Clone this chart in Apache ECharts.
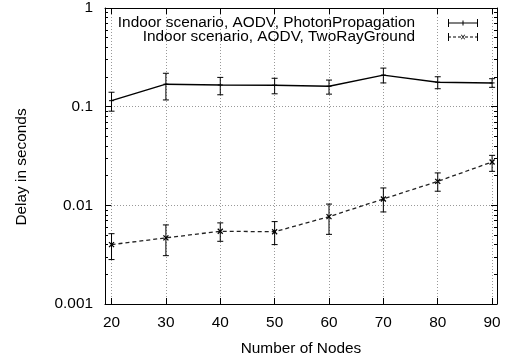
<!DOCTYPE html>
<html>
<head>
<meta charset="utf-8">
<script src="https://cdn.jsdelivr.net/npm/echarts@6/dist/echarts.min.js"></script>
<style>html,body{margin:0;padding:0;background:#fff}#c{width:508px;height:358px}</style>
</head>
<body>
<div id="c"></div>
<script>
const nodes = [20, 30, 40, 50, 60, 70, 80, 90];
const photonDelay = [0.115, 0.169, 0.166, 0.165, 0.161, 0.209, 0.177, 0.174];
const photonLow   = [0.090, 0.117, 0.132, 0.135, 0.134, 0.174, 0.152, 0.157];
const photonHigh  = [0.140, 0.218, 0.198, 0.194, 0.186, 0.246, 0.201, 0.192];
const twoRayDelay = [0.0040, 0.00468, 0.00546, 0.0054, 0.00768, 0.0116, 0.0175, 0.0275];
const twoRayLow   = [0.00282, 0.00309, 0.00432, 0.0040, 0.00508, 0.00857, 0.0139, 0.0221];
const twoRayHigh  = [0.00516, 0.00633, 0.00664, 0.00684, 0.0103, 0.0150, 0.0213, 0.0321];
const xTicks = [20, 30, 40, 50, 60, 70, 80, 90];
const yTicks = [0.001, 0.01, 0.1, 1];
const yMinorTicks = [0.002,0.003,0.004,0.005,0.006,0.007,0.008,0.009,
                     0.02,0.03,0.04,0.05,0.06,0.07,0.08,0.09,
                     0.2,0.3,0.4,0.5,0.6,0.7,0.8,0.9];
const name1 = 'Indoor scenario, AODV, PhotonPropagation';
const name2 = 'Indoor scenario, AODV, TwoRayGround';

const FONT = "'Liberation Sans', Arial, Helvetica, sans-serif";
const FS = 15.4;

const iconSolid = 'path://M0,3.5L30,3.5L30,4.5L0,4.5Z M0,0L1,0L1,8L0,8Z M29,0L30,0L30,8L29,8Z M14.5,1.5L15.5,1.5L15.5,6.5L14.5,6.5Z';
const iconDashed = 'path://M0,3.5L3,3.5L3,4.5L0,4.5Z M5,3.5L8,3.5L8,4.5L5,4.5Z M10,3.5L13,3.5L13,4.5L10,4.5Z M17,3.5L20,3.5L20,4.5L17,4.5Z M22,3.5L25,3.5L25,4.5L22,4.5Z M27,3.5L30,3.5L30,4.5L27,4.5Z M0,0L1,0L1,8L0,8Z M29,0L30,0L30,8L29,8Z M12.8,1.8L13.8,1.8L17.2,6.2L16.2,6.2Z M16.2,1.8L17.2,1.8L13.8,6.2L12.8,6.2Z';

function zip(a, b, c, d) { return a.map((v, i) => [v, b[i], c[i], d[i]]); }

function errRender(marker) {
  return function (params, api) {
    const x = api.value(0);
    const p = api.coord([x, api.value(1)]);
    const lo = api.coord([x, api.value(2)]);
    const hi = api.coord([x, api.value(3)]);
    const st = { stroke: '#000', lineWidth: 1 };
    const ch = [
      { type: 'line', shape: { x1: p[0], y1: hi[1], x2: p[0], y2: lo[1] }, style: st },
      { type: 'line', shape: { x1: p[0] - 3, y1: hi[1], x2: p[0] + 3, y2: hi[1] }, style: st },
      { type: 'line', shape: { x1: p[0] - 3, y1: lo[1], x2: p[0] + 3, y2: lo[1] }, style: st }
    ];
    if (marker === 'plus') {
      ch.push({ type: 'line', shape: { x1: p[0] - 2.5, y1: p[1], x2: p[0] + 2.5, y2: p[1] }, style: st });
    } else {
      ch.push({ type: 'line', shape: { x1: p[0] - 2.5, y1: p[1] - 2.5, x2: p[0] + 2.5, y2: p[1] + 2.5 }, style: { stroke: '#000', lineWidth: 1.3 } });
      ch.push({ type: 'line', shape: { x1: p[0] - 2.5, y1: p[1] + 2.5, x2: p[0] + 2.5, y2: p[1] - 2.5 }, style: { stroke: '#000', lineWidth: 1.3 } });
    }
    return { type: 'group', children: ch };
  };
}

const xMin = 18.8, xMax = 90.9;
const gridLine = { show: true, lineStyle: { color: '#999', type: [1, 2], width: 1 } };

const chart = echarts.init(document.getElementById('c'), null, { renderer: 'canvas' });
chart.setOption({
  animation: false,
  backgroundColor: '#fff',
  textStyle: { fontFamily: FONT },
  grid: { left: 105, right: 11, top: 8, bottom: 54, containLabel: false, outerBoundsMode: 'none' },
  legend: {
    orient: 'vertical', align: 'right', right: 25, top: 10,
    itemWidth: 30, itemHeight: 8, itemGap: -2,
    selectedMode: false,
    formatter: n => '{a|' + n + '}',
    textStyle: { fontFamily: FONT, fontSize: FS, color: '#000', lineHeight: 16,
      rich: { a: { fontFamily: FONT, fontSize: FS, color: '#000', lineHeight: 16, padding: [0, 28, 0, 0] } } },
    data: [
      { name: name1, icon: iconSolid, itemStyle: { color: '#000' } },
      { name: name2, icon: iconDashed, itemStyle: { color: '#000' } }
    ]
  },
  xAxis: [
    {
      type: 'value', min: xMin, max: xMax, position: 'bottom',
      name: 'Number of Nodes', nameLocation: 'middle', nameGap: 37,
      nameTextStyle: { fontFamily: FONT, fontSize: FS, color: '#000' },
      axisLine: { show: true, lineStyle: { color: '#000', width: 1 } },
      axisTick: { show: true, inside: true, length: 6, customValues: xTicks, lineStyle: { color: '#000' } },
      axisLabel: { customValues: xTicks, fontFamily: FONT, fontSize: FS, color: '#000', margin: 11 },
      splitLine: gridLine
    },
    {
      type: 'value', min: xMin, max: xMax, position: 'top',
      axisLine: { show: true, lineStyle: { color: '#000', width: 1 } },
      axisTick: { show: true, inside: true, length: 6, customValues: xTicks, lineStyle: { color: '#000' } },
      axisLabel: { show: false }, splitLine: { show: false }
    }
  ],
  yAxis: [
    {
      type: 'log', logBase: 10, min: 0.001, max: 1, position: 'left',
      name: 'Delay in seconds', nameLocation: 'middle', nameGap: 76, nameRotate: 90,
      nameTextStyle: { fontFamily: FONT, fontSize: FS, color: '#000', padding: [0, 22, 0, 0] },
      axisLine: { show: true, lineStyle: { color: '#000', width: 1 } },
      axisTick: { show: true, inside: true, length: 6, customValues: yTicks, lineStyle: { color: '#000' } },
      axisLabel: { customValues: yTicks, fontFamily: FONT, fontSize: FS, color: '#000', margin: 12,
        formatter: v => String(+v.toPrecision(3)) },
      splitLine: gridLine
    },
    {
      type: 'log', logBase: 10, min: 0.001, max: 1, position: 'right',
      axisLine: { show: true, lineStyle: { color: '#000', width: 1 } },
      axisTick: { show: true, inside: true, length: 6, customValues: yTicks, lineStyle: { color: '#000' } },
      axisLabel: { show: false }, splitLine: { show: false }
    },
    {
      type: 'log', logBase: 10, min: 0.001, max: 1, position: 'left',
      axisLine: { show: false },
      axisTick: { show: true, inside: true, length: 3, customValues: yMinorTicks, lineStyle: { color: '#000' } },
      axisLabel: { show: false }, splitLine: { show: false }
    },
    {
      type: 'log', logBase: 10, min: 0.001, max: 1, position: 'right',
      axisLine: { show: false },
      axisTick: { show: true, inside: true, length: 3, customValues: yMinorTicks, lineStyle: { color: '#000' } },
      axisLabel: { show: false }, splitLine: { show: false }
    }
  ],
  series: [
    {
      name: name1, type: 'line', xAxisIndex: 0, yAxisIndex: 0,
      data: nodes.map((x, i) => [x, photonDelay[i]]),
      symbol: 'none', color: '#000',
      lineStyle: { color: '#000', width: 1.4 }, z: 2
    },
    {
      name: name2, type: 'line', xAxisIndex: 0, yAxisIndex: 0,
      data: nodes.map((x, i) => [x, twoRayDelay[i]]),
      symbol: 'none', color: '#000',
      lineStyle: { color: '#222', width: 1.3, type: [4, 3] }, z: 2
    },
    {
      name: 'err1', type: 'custom', xAxisIndex: 0, yAxisIndex: 0,
      data: zip(nodes, photonDelay, photonLow, photonHigh),
      renderItem: errRender('plus'), z: 3
    },
    {
      name: 'err2', type: 'custom', xAxisIndex: 0, yAxisIndex: 0,
      data: zip(nodes, twoRayDelay, twoRayLow, twoRayHigh),
      renderItem: errRender('cross'), z: 3
    }
  ]
});
</script>
</body>
</html>
